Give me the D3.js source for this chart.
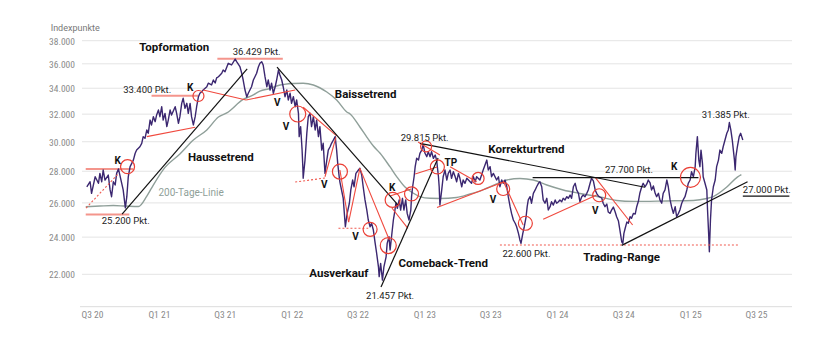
<!DOCTYPE html>
<html><head><meta charset="utf-8">
<script src="https://cdn.jsdelivr.net/npm/d3@7"></script>
<style>
html,body{margin:0;padding:0;background:#fff;}
svg{display:block;font-family:Roboto,"Noto Sans",sans-serif;}
</style></head><body>
<svg id="chart" width="840" height="344"></svg>
<script>
// ---------- DATA (days since 2020-07-01, index points) ----------
const priceDays = [
16,25,29,39,48,52,57,61,66,75,
80,84,89,94,98,103,112,116,122,126,
130,135,144,149,153,162,167,171,176,181,
185,190,194,199,204,208,213,217,222,226,
231,236,240,245,249,259,263,268,272,277,
281,286,291,295,300,304,309,314,318,323,
327,332,336,346,350,359,364,369,373,378,
387,391,396,405,414,424,428,437,442,446,
451,456,460,469,474,483,488,492,497,501,
506,511,515,520,524,529,534,538,543,547,
552,556,561,566,570,575,579,584,589,593,
598,600,604,608,610,611,616,621,625,630,
634,639,644,648,653,657,662,666,671,676,
680,685,689,694,699,703,706,710,712,721,
727,732,738,742,747,751,756,763,767,772,
776,781,786,790,795,799,804,809,813,818,
820,824,829,833,839,842,847,850,854,859,
862,866,870,875,879,884,888,893,897,902,
907,909,912,916,919,923,928,932,937,941,
946,951,955,960,964,969,974,978,983,985,
987,992,996,1001,1006,1010,1015,1019,1024,1029,
1033,1038,1042,1047,1051,1056,1061,1070,1074,1079,
1084,1088,1097,1106,1111,1116,1120,1125,1129,1134,
1143,1148,1152,1157,1161,1166,1171,1175,1180,1184,
1189,1194,1198,1203,1207,1210,1215,1219,1224,1227,
1230,1235,1239,1244,1249,1253,1258,1262,1267,1271,
1276,1281,1285,1290,1294,1299,1304,1308,1313,1317,
1322,1326,1331,1336,1340,1345,1349,1354,1359,1363,
1368,1372,1377,1381,1386,1391,1395,1400,1404,1409,
1414,1418,1423,1427,1432,1436,1441,1446,1450,1455,
1459,1464,1469,1473,1478,1482,1487,1490,1493,1496,
1501,1505,1510,1514,1519,1524,1528,1533,1537,1542,
1546,1551,1556,1560,1565,1569,1574,1579,1583,1588,
1592,1597,1601,1606,1611,1615,1620,1624,1629,1634,
1638,1643,1647,1652,1656,1661,1666,1670,1675,1679,
1684,1689,1691,1695,1699,1702,1705,1709,1711,1716,
1721,1723,1726,1728,1731,1734,1739,1744,1748,1753,
1757,1762,1766,1771,1776,1780,1783,1787,1791,1794,
1797,1799,1801,1805,1810,1814,1817,1820];
const priceValues = [
27000,27320,26590,27640,27220,27860,27320,28080,27430,27750,
26800,26380,27320,27110,27860,28150,27220,26800,25700,26380,
27640,28300,28740,29200,29420,29650,29890,30360,30240,30840,
30600,31560,31200,31810,31440,31940,32310,31810,32560,31560,
32060,31080,31560,32310,31940,32560,32060,31320,31810,32820,
33210,32440,32820,32060,32820,31810,31200,31810,32560,33330,
33600,33730,33860,34120,34400,34260,34660,34420,34830,34930,
35210,35480,35340,36040,35900,36400,36180,35760,35210,34660,
33860,33310,33600,34120,34660,35210,35760,36040,36180,35900,
34930,34120,34660,33860,34400,33600,34120,34660,35480,35070,
34660,34120,33330,33860,33080,33600,32820,33330,32560,33080,
32060,30360,31080,29420,28300,27540,28740,30600,31810,32060,
31080,31810,30840,31560,30360,31080,29420,29890,27860,28740,
29420,29650,29890,30120,30360,29420,28520,27640,27300,26300,
24590,25370,25980,26800,27430,27000,27860,28080,28190,27750,
27000,26180,25570,24980,24590,24790,24400,23650,23110,22390,
21880,22570,21700,22390,22920,23650,24020,23290,24020,24980,
25370,25980,25670,26180,25570,26280,25570,26180,25370,24980,
25570,26380,27000,27640,28300,28860,28740,29200,29420,29800,
29200,28970,29310,28970,29310,28860,29080,28740,27640,27000,
25870,26800,27640,28080,27430,27860,28080,27540,27970,27640,
27320,27860,27540,27000,27430,27220,27540,27320,27220,27640,
27320,27640,27430,28080,28410,28740,28080,28300,27640,27860,
27430,27640,27000,27430,27220,27430,27000,26380,25770,25370,
24980,24790,24590,24210,23840,23650,24210,24590,25170,25770,
26180,26380,25980,26590,26800,27000,27220,27320,27000,26180,
25980,26280,25570,25770,26070,25870,26180,25980,26070,26180,
26070,26280,26180,26380,26280,26480,26280,27000,27220,26800,
26590,26070,26380,26480,26380,26590,26800,27220,27540,27370,
26800,26590,26420,26360,26300,25980,25770,25930,25450,25370,
25570,25750,25450,25170,24920,24400,23740,23650,24210,24460,
24860,24790,25170,25080,25370,25330,25750,26120,26610,27000,
27220,27000,27180,27430,27240,26800,27050,26590,26380,26590,
26180,25980,26590,26800,27430,27000,26180,25770,25370,25770,
25170,25370,25570,25980,26180,26380,26800,27220,27430,27970,
27640,28300,29200,30360,28740,28300,29420,28520,27640,27220,
26800,25570,24210,23190,24980,26180,27000,27430,28300,28740,
29420,29200,29650,30120,30600,30840,31380,30840,30120,29420,
28740,28080,28970,29650,30360,30600,30360,30120];

const maDays = [13,52,89,121,158,181,194,231,272,309,346,378,401,446,474,492,520,538,584,611,639,676,703,731,740,767,786,804,822,850,869,891,913,932,960,987,1033,1070,1097,1143,1171,1207,1244,1281,1326,1372,1427,1473,1519,1611,1684,1721,1739,1776,1805,1816];
const maValues = [25770,25810,25840,25810,25780,26420,26920,28250,29150,30120,30840,31790,32090,33120,33470,33780,33980,34180,34380,34400,34260,33700,33080,32160,32010,31050,30330,29700,29220,28280,27620,26980,26610,26390,26280,26270,26330,26550,26730,27180,27430,27530,27430,27110,26800,26580,26360,26150,26090,26120,26150,26270,26390,26980,27620,27780];

const yTicks = [22000,24000,26000,28000,30000,32000,34000,36000,38000];
const xTickDates = ["2020-07-01","2021-01-01","2021-07-01","2022-01-01","2022-07-01","2023-01-01","2023-07-01","2024-01-01","2024-07-01","2025-01-01","2025-07-01"];
const xTickLabels = ["Q3 20","Q1 21","Q3 21","Q1 22","Q3 22","Q1 23","Q3 23","Q1 24","Q3 24","Q1 25","Q3 25"];

// annotations [day, value, ...]
const levelLines = [[13,144,28150],[13,133,25300],[194,323,33400],[375,555,36429]];
const dottedLines = [[14,25690,102,27820],[589,27300,671,27560],[708,24500,790,24500],[1152,23560,1812,23560]];
const redTrends = [
 [181,30360,314,31030],[336,33860,454,33080],[454,33080,589,33860],
 [611,32520,703,30410],[671,27640,701,30310],[712,28080,736,24860],
 [736,24860,767,28190],[767,28190,848,23840],[850,26420,908,26860],
 [855,25690,899,24500],[927,29980,987,29080],[919,27820,979,28280],
 [1015,28300,1088,27320],[979,25720,1158,27270],[1161,27370,1216,24690],
 [1271,25020,1418,26480],[1414,27600,1517,24690]];
const blackTrends = [[113,25330,457,35570],[539,35730,872,25870],[825,21360,982,28880],[932,29890,1551,26970],[1242,27590,1698,27590],[1487,23540,1833,27320],[1820,26420,1948,26420]];
const circlePoints = [[128,28300],[323,33390],[596,32010],[712,27970],[795,24440],[845,23530],[857,26180],[909,26550],[949,29670],[980,28280],[1092,27530],[1161,26860],[1222,24790],[1425,26470],[1676,27600]];
const boldLabels = [["Topformation",160,37090],["Haussetrend",294,28680],["Baissetrend",698,33270],["Ausverkauf",628,21880],["Comeback-Trend",873,22380],["Korrekturtrend",1120,29250],["Trading-Range",1381,22700]];
const pointLabels = [["36.429 Pkt.",417,36790],["33.400 Pkt.",116,33660],["25.200 Pkt.",57,24750],["21.457 Pkt.",784,20760],["29.815 Pkt.",879,30050],["22.600 Pkt.",1159,22910],["27.700 Pkt.",1441,27900],["31.385 Pkt.",1707,31710],["27.000 Pkt.",1820,26600]];
const markerLabels = [["K",300,33820],["K",101,28480],["V",540,32650],["V",564,30800],["V",669,26920],["V",755,23840],["K",856,26750],["TP",1017,28360],["V",1133,25990],["V",1414,25360],["K",1631,28080]];
const maLabel = ["200-Tage-Linie",213,26450];

// ---------- DRAW ----------
const circleRadii = [7,5.5,8,7.5,7,8,7.5,7,5.5,7,6,6.5,7,6.5,10];
const svg = d3.select("#chart");
const base = new Date(2020,6,1);
const toDate = d => d3.timeDay.offset(base, d);
const parse = d3.timeParse("%Y-%m-%d");
const x = d3.scaleTime().domain([new Date(2020,6,1), new Date(2025,6,1)]).range([81,745]);
const y = d3.scaleLog().domain([20394,38000]).range([306.7,40.7]);
const X = d => x(toDate(d));
const de = d3.formatLocale({decimal:",",thousands:".",grouping:[3],currency:["","€"]});
const fmt = de.format(",");
const tickFont = "'Liberation Sans Narrow','Roboto Condensed',Roboto,sans-serif";

// grid
svg.append("g").selectAll("line").data(yTicks).join("line")
  .attr("x1",82).attr("x2",792).attr("y1",d=>y(d)).attr("y2",d=>y(d))
  .attr("stroke","#e4e4e4").attr("stroke-width",1);

// y axis
const ya = svg.append("g").attr("transform","translate(78,0)")
  .call(d3.axisLeft(y).tickValues(yTicks).tickFormat(fmt).tickSize(0).tickPadding(3));
ya.select(".domain").remove();
ya.selectAll("text").attr("fill","#8a8a8a").style("font-size","9.5px").style("font-family",tickFont).attr("dy","0.35em");

// x axis
const xa = svg.append("g").attr("transform","translate(0,306.7)")
  .call(d3.axisBottom(x).tickValues(xTickDates.map(parse)).tickFormat((d,i)=>xTickLabels[i]).tickSize(0).tickPadding(4.5));
xa.select(".domain").remove();
xa.selectAll("text").attr("fill","#8a8a8a").attr("text-anchor","start").style("font-size","9.5px").style("font-family",tickFont);
svg.append("line").attr("x1",80).attr("x2",792).attr("y1",306.7).attr("y2",306.7).attr("stroke","#dcdcdc");

svg.append("text").attr("x",50.7).attr("y",31).text("Indexpunkte")
  .attr("fill","#777").style("font-size","9px");

// level lines (salmon)
svg.append("g").selectAll("line").data(levelLines).join("line")
  .attr("x1",d=>X(d[0])).attr("x2",d=>X(d[1])).attr("y1",d=>y(d[2])).attr("y2",d=>y(d[2]))
  .attr("stroke","#f4958c").attr("stroke-width",2);

// 200-day line
const ma = d3.zip(maDays, maValues);
svg.append("path").datum(ma)
  .attr("d", d3.line().x(d=>X(d[0])).y(d=>y(d[1])).curve(d3.curveMonotoneX))
  .attr("fill","none").attr("stroke","#8f9f99").attr("stroke-width",1.4);

// price
const price = d3.zip(priceDays, priceValues);
svg.append("path").datum(price)
  .attr("d", d3.line().x(d=>X(d[0])).y(d=>y(d[1])))
  .attr("fill","none").attr("stroke","#3b2770").attr("stroke-width",1.4).attr("stroke-linejoin","round");

// dotted red
svg.append("g").selectAll("line").data(dottedLines).join("line")
  .attr("x1",d=>X(d[0])).attr("y1",d=>y(d[1])).attr("x2",d=>X(d[2])).attr("y2",d=>y(d[3]))
  .attr("stroke","#ef5a50").attr("stroke-width",1.1).attr("stroke-dasharray","2,2");

// red trends
svg.append("g").selectAll("line").data(redTrends).join("line")
  .attr("x1",d=>X(d[0])).attr("y1",d=>y(d[1])).attr("x2",d=>X(d[2])).attr("y2",d=>y(d[3]))
  .attr("stroke","#f0493e").attr("stroke-width",1.1);

// black trends
svg.append("g").selectAll("line").data(blackTrends).join("line")
  .attr("x1",d=>X(d[0])).attr("y1",d=>y(d[1])).attr("x2",d=>X(d[2])).attr("y2",d=>y(d[3]))
  .attr("stroke","#111").attr("stroke-width",1.2);

// circles
svg.append("g").selectAll("circle").data(circlePoints).join("circle")
  .attr("cx",d=>X(d[0])).attr("cy",d=>y(d[1])).attr("r",(d,i)=>circleRadii[i])
  .attr("fill","none").attr("stroke","#ea3f35").attr("stroke-width",1.2);

// labels
svg.append("g").selectAll("text").data(boldLabels).join("text")
  .attr("x",d=>X(d[1])).attr("y",d=>y(d[2])).text(d=>d[0])
  .attr("fill","#111").style("font-size","11.5px").style("font-weight","bold");
svg.append("g").selectAll("text").data(pointLabels).join("text")
  .attr("x",d=>X(d[1])).attr("y",d=>y(d[2])).text(d=>d[0])
  .attr("fill","#222").style("font-size","9.5px");
svg.append("g").selectAll("text").data(markerLabels).join("text")
  .attr("x",d=>X(d[1])).attr("y",d=>y(d[2])).text(d=>d[0])
  .attr("text-anchor","middle").attr("fill","#111").style("font-size","10px").style("font-weight","bold");
svg.append("text").attr("x",X(maLabel[1])).attr("y",y(maLabel[2])).text(maLabel[0])
  .attr("fill","#8f9f99").style("font-size","10px");
</script>
</body></html>
